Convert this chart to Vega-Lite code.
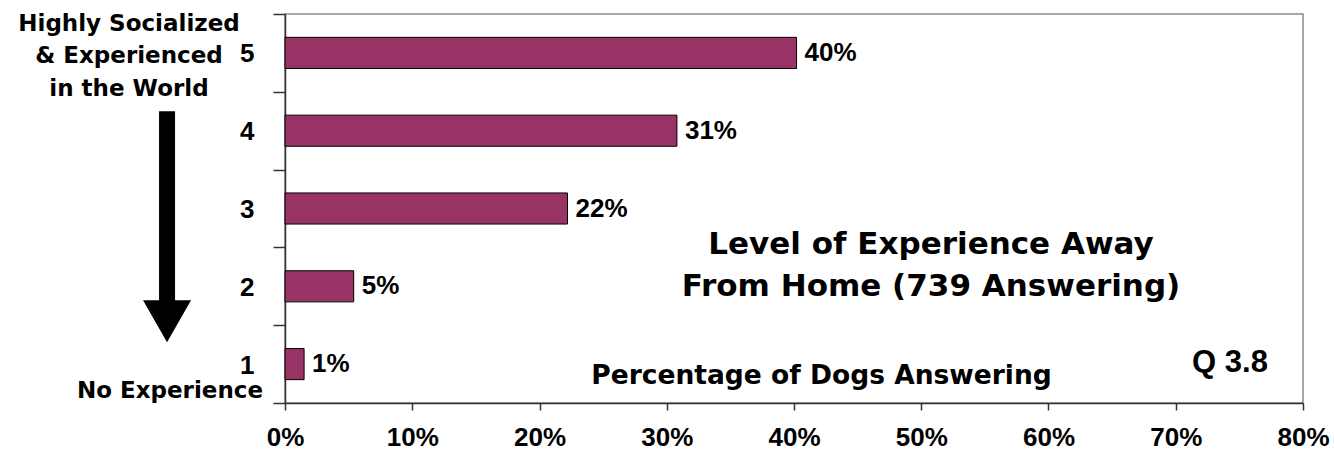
{
  "$schema": "https://vega.github.io/schema/vega-lite/v6.json",
  "width": 1018,
  "height": 389,
  "autosize": {"type": "none"},
  "padding": {"left": 285, "top": 14, "right": 31, "bottom": 48},
  "background": "white",
  "config": {
    "view": {"stroke": "#8c8c8c", "strokeWidth": 1.5},
    "font": "Liberation Sans"
  },
  "data": {
    "values": [
      {"level": "5", "pct": 0.402, "label": "40%"},
      {"level": "4", "pct": 0.308, "label": "31%"},
      {"level": "3", "pct": 0.222, "label": "22%"},
      {"level": "2", "pct": 0.054, "label": "5%"},
      {"level": "1", "pct": 0.015, "label": "1%"}
    ]
  },
  "layer": [
    {
      "mark": {"type": "bar", "fill": "#993366", "stroke": "#000000", "strokeWidth": 1, "height": {"band": 0.4}},
      "encoding": {
        "y": {
          "field": "level", "type": "nominal",
          "scale": {"domain": ["5", "4", "3", "2", "1"], "paddingInner": 0, "paddingOuter": 0},
          "axis": {
            "title": null, "tickBand": "extent", "tickSize": 12, "tickWidth": 1.5, "domainWidth": 1.5,
            "domainColor": "#333333", "tickColor": "#333333",
            "labelFont": "Liberation Sans", "labelFontWeight": "bold", "labelFontSize": 26, "labelColor": "#000000",
            "labelPadding": 19, "labelOffset": 1, "labelAngle": 0, "labelBaseline": "middle", "grid": false
          }
        },
        "x": {
          "field": "pct", "type": "quantitative",
          "scale": {"domain": [0, 0.8], "nice": false, "zero": true},
          "axis": {
            "values": [0, 0.1, 0.2, 0.3, 0.4, 0.5, 0.6, 0.7, 0.8], "format": ".0%",
            "tickSize": 7, "tickWidth": 1.5, "domainWidth": 1.5,
            "domainColor": "#333333", "tickColor": "#333333",
            "labelFont": "Liberation Sans", "labelFontWeight": "bold", "labelFontSize": 26, "labelColor": "#000000",
            "labelPadding": 14, "labelFlush": false, "labelOverlap": false, "grid": false,
            "title": "Percentage of Dogs Answering",
            "titleFont": "DejaVu Sans", "titleFontSize": 26.5, "titleFontWeight": "bold", "titleColor": "#000000",
            "titleX": 536, "titleY": -20, "titleBaseline": "alphabetic", "titleAlign": "center", "titleAnchor": null
          }
        }
      }
    },
    {
      "mark": {"type": "text", "align": "left", "baseline": "middle", "dx": 8, "font": "Liberation Sans", "fontWeight": "bold", "fontSize": 26, "color": "#000000"},
      "encoding": {
        "y": {"field": "level", "type": "nominal"},
        "x": {"field": "pct", "type": "quantitative"},
        "text": {"field": "label"}
      }
    },
    {
      "data": {"values": [{}]},
      "mark": {"type": "text", "text": ["Highly Socialized", "& Experienced", "in the World"], "align": "center", "baseline": "alphabetic", "dy": -22, "lineHeight": 32.5, "font": "DejaVu Sans", "fontWeight": "bold", "fontSize": 23, "color": "#000000"},
      "encoding": {
        "x": {"datum": -0.1226, "type": "quantitative"},
        "y": {"datum": "5", "type": "nominal"}
      }
    },
    {
      "data": {"values": [{}]},
      "mark": {"type": "text", "text": "No Experience", "align": "center", "baseline": "alphabetic", "dy": 34, "font": "DejaVu Sans", "fontWeight": "bold", "fontSize": 23, "color": "#000000"},
      "encoding": {
        "x": {"datum": -0.0904, "type": "quantitative"},
        "y": {"datum": "1", "type": "nominal"}
      }
    },
    {
      "data": {"values": [{}]},
      "mark": {"type": "rule", "strokeWidth": 16, "color": "#000000", "strokeCap": "butt", "yOffset": -19.5, "y2Offset": 16},
      "encoding": {
        "x": {"datum": -0.0927, "type": "quantitative"},
        "y": {"datum": "4", "type": "nominal"},
        "y2": {"datum": "2"}
      }
    },
    {
      "data": {"values": [{}]},
      "mark": {"type": "point", "shape": "M-1,-0.875L1,-0.875L0,0.875Z", "size": 2304, "filled": true, "color": "#000000", "opacity": 1, "strokeWidth": 0, "yOffset": 35},
      "encoding": {
        "x": {"datum": -0.0927, "type": "quantitative"},
        "y": {"datum": "2", "type": "nominal"}
      }
    },
    {
      "data": {"values": [{}]},
      "mark": {"type": "text", "text": ["Level of Experience Away", "From Home (739 Answering)"], "align": "center", "baseline": "alphabetic", "dy": 45, "lineHeight": 42, "font": "DejaVu Sans", "fontWeight": "bold", "fontSize": 31, "color": "#000000"},
      "encoding": {
        "x": {"datum": 0.5077, "type": "quantitative"},
        "y": {"datum": "3", "type": "nominal"}
      }
    },
    {
      "data": {"values": [{}]},
      "mark": {"type": "text", "text": "Q 3.8", "align": "center", "baseline": "alphabetic", "dy": 8, "font": "Liberation Sans", "fontWeight": "bold", "fontSize": 31, "color": "#000000"},
      "encoding": {
        "x": {"datum": 0.7426, "type": "quantitative"},
        "y": {"datum": "1", "type": "nominal"}
      }
    }
  ]
}
